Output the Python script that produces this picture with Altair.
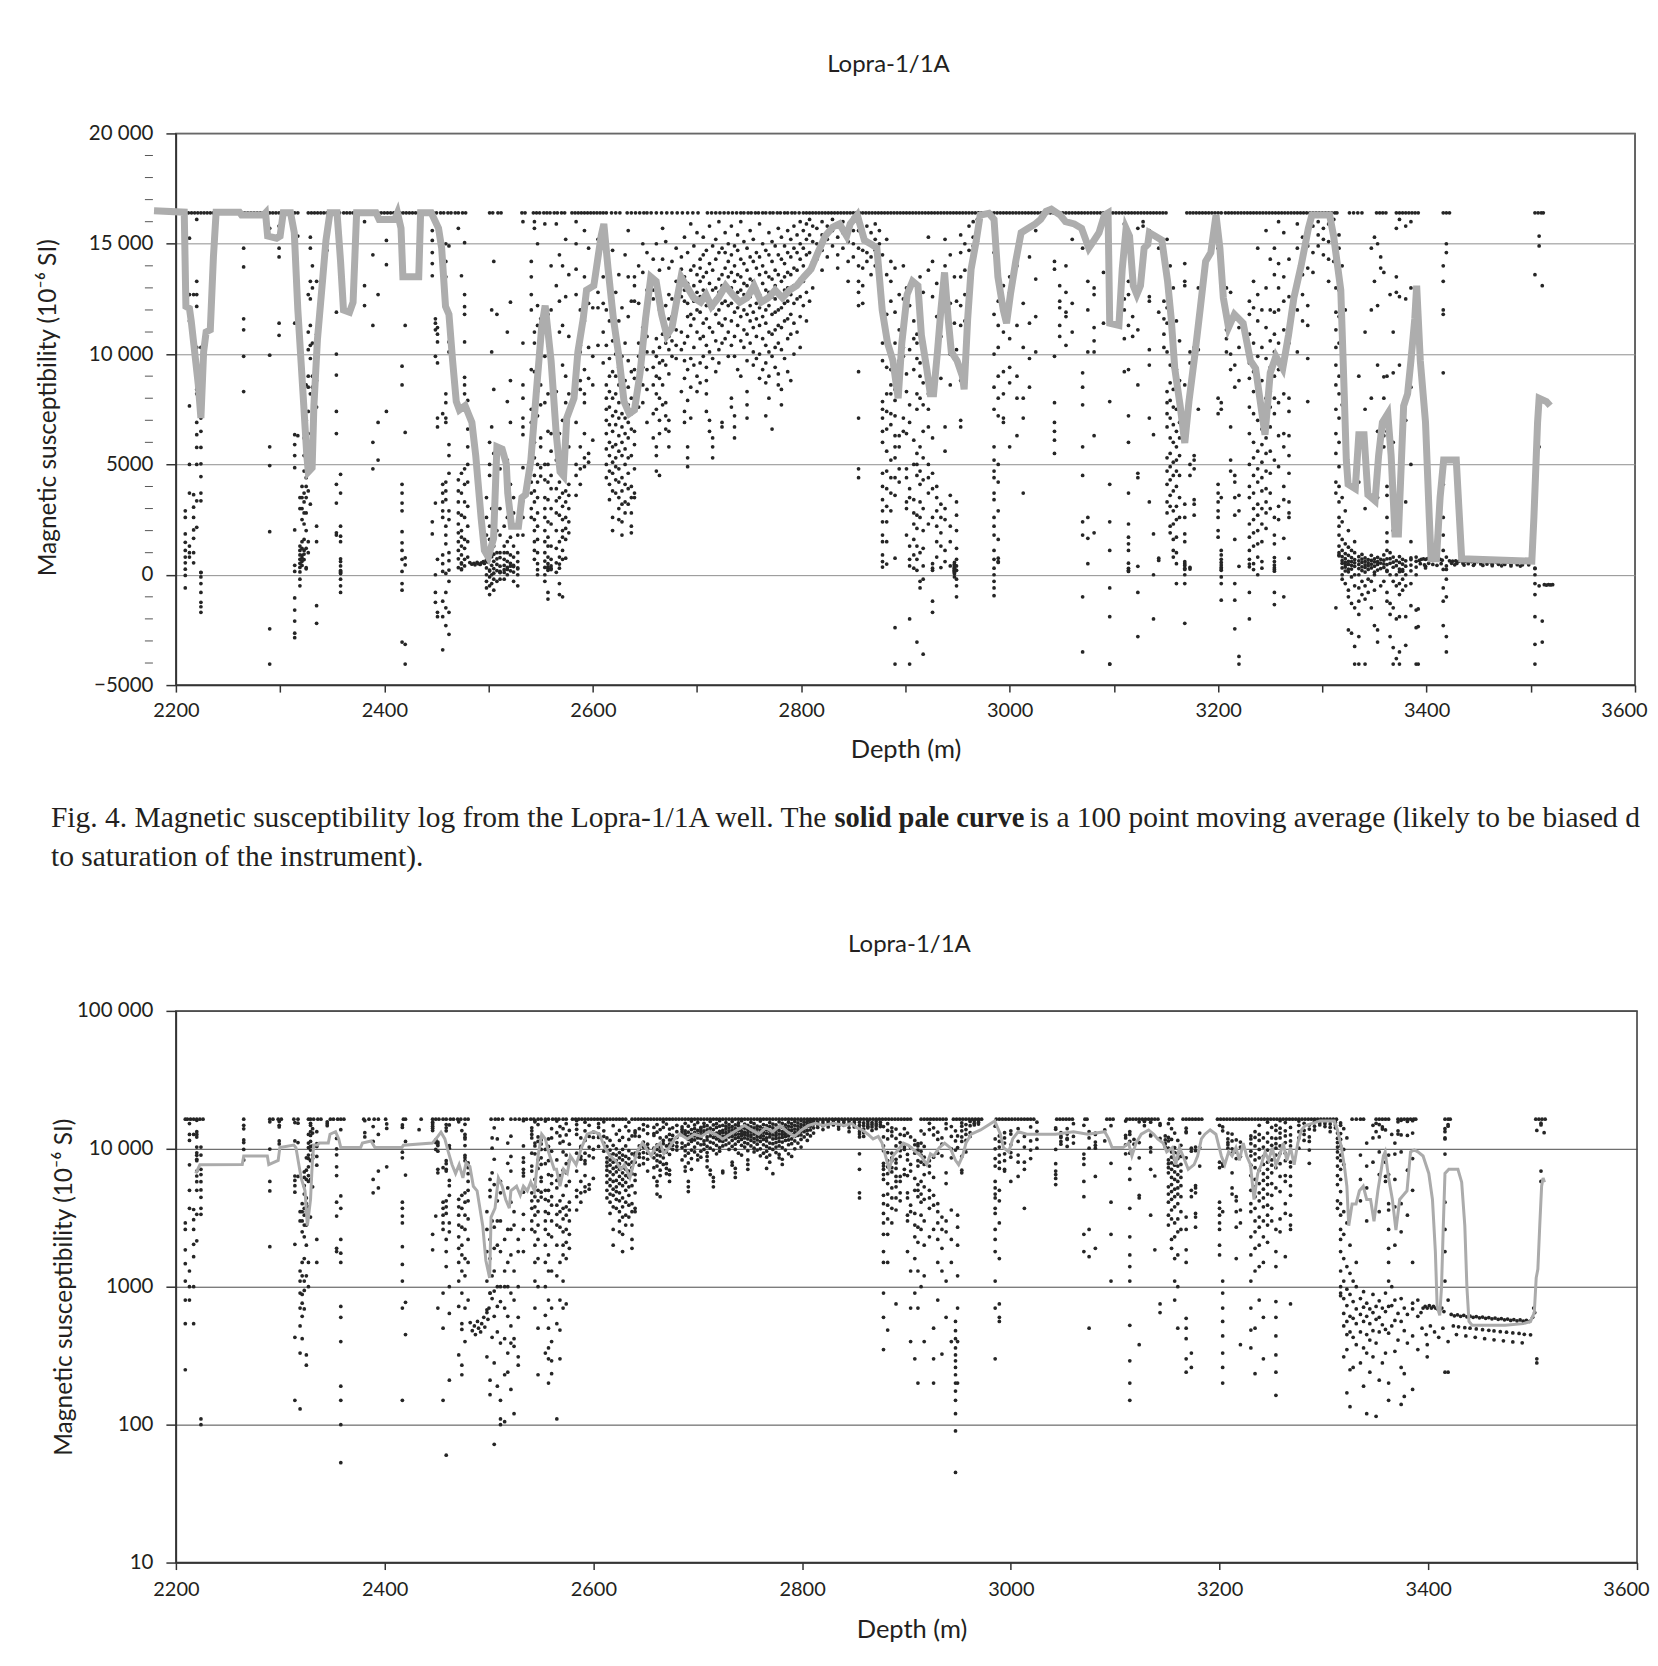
import altair as alt
import pandas as pd

alt.data_transformers.disable_max_rows()

SAT = 16400  # instrument saturation level (10^-6 SI)

# ---------------- data ----------------
sat_lin_depths = [
    2200, 2203, 2206, 2209, 2212, 2215, 2218, 2221, 2224, 2227, 2230, 2233, 2236, 2239, 2242, 2245, 2248, 2251,
    2254, 2257, 2260, 2263, 2266, 2269, 2272, 2275, 2278, 2281, 2284, 2287, 2290, 2293, 2296, 2299, 2302, 2305,
    2308, 2311, 2314, 2317,
    2327, 2330, 2333, 2336, 2339, 2342, 2345, 2348, 2351, 2354, 2357, 2361, 2364, 2367, 2370, 2373, 2376, 2379,
    2382, 2385, 2388, 2391, 2394, 2397, 2400, 2403, 2406, 2409, 2412, 2415, 2418, 2421, 2424, 2427, 2430, 2433,
    2436, 2439,
    2443, 2447, 2450, 2454, 2457, 2461, 2464, 2468, 2471, 2475, 2478,
    2501, 2504, 2509, 2512, 2532, 2535, 2543, 2546, 2549,
    2553, 2556, 2559, 2563, 2566, 2570, 2573,
    2580, 2583, 2586, 2589, 2592, 2595, 2598, 2601, 2604, 2607, 2610, 2613,
    2618, 2622, 2626, 2633, 2637, 2641, 2645, 2649, 2652,
    2656, 2661, 2666, 2671, 2676, 2681, 2686, 2691, 2696, 2701,
    2710, 2714, 2718, 2722, 2726, 2730,
    2734, 2738, 2742, 2745, 2749, 2752, 2756, 2759, 2763, 2766, 2770, 2773, 2777, 2780, 2784, 2787, 2791, 2794, 2798,
    2802, 2805, 2808, 2811, 2814, 2817, 2820, 2823, 2826, 2829, 2832, 2835, 2838, 2841, 2844, 2847, 2850, 2853,
    2856, 2859, 2862, 2865, 2868, 2871, 2874, 2877, 2880, 2883, 2886, 2889, 2892, 2895, 2898, 2901, 2904, 2907,
    2910, 2913, 2916, 2919, 2922, 2925, 2928, 2931, 2934, 2937, 2940, 2943, 2946, 2949, 2952, 2955, 2958, 2961,
    2964, 2967, 2970, 2973, 2976, 2979, 2982, 2985, 2988, 2991, 2994, 2997, 3000, 3003, 3006, 3009, 3012, 3015,
    3018, 3021, 3024, 3027, 3030, 3033, 3036, 3039, 3042, 3045, 3048, 3051, 3054, 3057, 3060, 3063, 3066, 3069,
    3072, 3075, 3078, 3081, 3084, 3087, 3090, 3093, 3096, 3099, 3102, 3105, 3108, 3111, 3114, 3117, 3120, 3123,
    3126, 3129, 3132, 3135, 3138, 3141, 3144, 3147, 3150,
    3170, 3173, 3176, 3179, 3182, 3185, 3188, 3191, 3194, 3197, 3200, 3203, 3207, 3210, 3213, 3216, 3219, 3222,
    3225, 3228, 3231, 3234, 3237, 3240, 3243, 3246, 3249, 3252, 3255, 3258, 3261, 3264, 3267, 3270, 3273, 3276,
    3279, 3282, 3285, 3288, 3291, 3294, 3297, 3300, 3303, 3306, 3309, 3312, 3314,
    3326, 3330, 3334, 3338, 3352, 3355, 3358, 3361, 3371, 3374, 3377, 3380, 3383, 3386, 3389, 3392,
    3416, 3419, 3422, 3504, 3507, 3510, 3512,
]

sat_log_depths = [
    2209, 2211, 2214, 2217, 2220, 2223, 2226, 2265, 2290, 2293, 2298, 2301, 2313, 2317, 2327, 2329, 2332, 2336,
    2339, 2348, 2351, 2355, 2358, 2361, 2380, 2385, 2390, 2394, 2401, 2418, 2420, 2435, 2446, 2449, 2452, 2456,
    2459, 2463, 2466, 2470, 2473, 2477, 2480, 2502, 2506, 2509, 2513, 2521, 2525, 2529, 2533, 2536, 2540, 2543,
    2547, 2550, 2554, 2557, 2561, 2564, 2567, 2571, 2574,
    2580, 2583, 2586, 2589, 2592, 2595, 2598, 2601, 2604, 2607, 2610, 2613, 2616, 2619, 2622, 2625, 2628, 2631,
    2637, 2640, 2643, 2646, 2649, 2652, 2655, 2658, 2661, 2664, 2667, 2670, 2673, 2676, 2679, 2682, 2685, 2688,
    2691, 2694, 2697, 2700, 2703, 2706, 2709, 2712, 2715, 2718, 2721, 2724, 2727, 2730, 2733, 2736, 2739, 2742,
    2745, 2748, 2751, 2754, 2757, 2760, 2763, 2766, 2769, 2772, 2775, 2778, 2781, 2784, 2787, 2790, 2793, 2796,
    2799, 2802, 2805, 2808, 2811, 2814, 2817, 2820, 2823, 2826, 2829, 2832, 2835, 2838, 2841, 2844, 2847, 2850,
    2853, 2856, 2859, 2862, 2865, 2868, 2871, 2874, 2877, 2880, 2883, 2886, 2889, 2892, 2895, 2898, 2901, 2904,
    2914, 2917, 2920, 2923, 2926, 2929, 2932, 2935, 2938, 2945, 2948, 2951, 2954, 2957, 2960, 2963, 2966, 2969,
    2972, 2986, 2989, 2992, 2995, 2998, 3001, 3004, 3007, 3010, 3013, 3016, 3019, 3022, 3044, 3047, 3050, 3053,
    3056, 3059, 3071, 3073, 3092, 3095, 3098, 3111, 3114, 3117, 3120, 3123, 3126, 3129, 3132, 3135, 3138, 3141,
    3152, 3155, 3165, 3168, 3171, 3174, 3177, 3180, 3183,
    3198, 3201, 3204, 3207, 3210, 3213, 3216, 3219, 3222, 3225, 3228, 3231, 3234, 3237, 3240, 3243, 3246, 3249,
    3252, 3255, 3258, 3261, 3264, 3267, 3270, 3273, 3276, 3279, 3282, 3285, 3288, 3291, 3294, 3297, 3300, 3303,
    3306, 3309, 3312,
    3327, 3331, 3335, 3338, 3350, 3353, 3356, 3359, 3362, 3371, 3374, 3377, 3380, 3383, 3386, 3388,
    3416, 3419, 3421, 3503, 3506, 3509, 3512,
]

# columns of log readings: (depth m, [susceptibility values])
scatter_columns = [
    (2209, [2900, 2600, 1850, 1470, 1100, 800, 540, 250, -30, -600]),
    (2213, [15250, 12700, 11500, 7650, 5000, 3700, 1300, 1000, 800]),
    (2217, [12700, 3630, 3060, 2600, 2030, 1650, 1000, 540]),
    (2220, [16100, 13300, 12700, 12160, 10300, 9350, 8970, 8400, 8200, 6900, 6350, 5770, 5000, 3350, 2150]),
    (2224, [10300, 9000, 7100, 6500, 5770, 5030, 4450, 3700, 3350, 110, 100, -100, -400, -800, -1250, -1450, -1700]),
    (2265, [14800, 13950, 11600, 11100, 9900, 8300]),
    (2290, [15700, 9950, 5800, 4950, 1950, -2450, -4050]),
    (2299, [15800, 14800, 14400, 11400, 10850]),
    (2314, [15500, 11400, 6350, 5900, 5400, 4850, 2030, 430, 150, -1050, -1600, -2100, -2650, -2850]),
    (2317, [15350, 11100, 6300]),
    (2319, [3500, 3000, 1300, 1100, 900, 700, 520, 330, 130, -200, -500]),
    (2321, [4000, 3500, 3000, 2500, 1500, 1200, 880, 760, 610, 420]),
    (2323, [6800, 6200, 5400, 4700, 3700, 3300, 2800, 2300, 1600, 1100, 940, 690]),
    (2325, [8600, 7000, 6000, 4400, 4000, 3500, 2800, 2000, 1200, 320, 270]),
    (2327, [12700, 11000, 10200, 9000, 8500, 7400, 6400, 5800, 3800, 1500, 1000]),
    (2329, [15300, 14800, 13300, 12500, 11300, 10400, 9800, 8200, 6000, 3200]),
    (2331, [14000, 13000, 10500, 9000, 8500, 5300]),
    (2335, [13300, 10900, 10400, 8800, 7600, 2200, 1500, -1400, -2200]),
    (2345, [15700, 15200, 14700]),
    (2354, [11900, 10000, 9050, 7400, 6400, 4100, 3250, 1900, 1800]),
    (2358, [13750, 4550, 3700, 2200, 1750, 1500, 720, 600, 400, 190, 150, 100, 53, -200, -500, -800]),
    (2381, [16000, 13100, 12200]),
    (2389, [14500, 11300, 6000, 4800]),
    (2394, [12700, 6900, 5200]),
    (2402, [15150, 14050, 7400]),
    (2417, [14900, 14300, 9450, 8600, 4100, 3700, 3250, 2900, 1950, 1450, 1100, 700, 150, -400, -700, -3050]),
    (2420, [11300, 6450, 770, 450, -3150, -4050]),
    (2433, [13750]),
    (2446, [15600, 15150, 14600, 14100, 13550, 2400, 1850]),
    (2449, [11600, 11400, 11100, 9900, 3250, 0, -800, -1250]),
    (2451, [11200, 10900, 10550, 9600, 7100, 6700, 700, -1700, -1900]),
    (2456, [7300, 4100, 3700, 3300, 2900, 2600, 900, 500, 150, -1200, -1900, -3400]),
    (2459, [15000, 14200, 13500, 8200, 7800, 7100, 6900, 4200, 3800, 3400, 2200, 1800, 1400, 60, -800, -1500, -2300]),
    (2462, [14900, 10550, 10100, 5900, 5400, 4600, 2900, 2500, 1000, 640, 210, -300, -1700, -2700]),
    (2471, [15700, 4300, 3800, 3300, 2800, 2300, 1900, 1500, 1100, 720, 320]),
    (2474, [13550, 4600, 3700, 2700, 2000, 1700, 1300, 900, 540, 490, 270, 230]),
    (2477, [15050, 12700, 12150, 11800, 10550, 8950, 8600, 8200, 4800, 4100, 3300, 2600, 1600, 1200, 700, 400]),
    (2480, [7900, 7300, 6600, 5800, 5000, 4200, 3100, 2200, 1500, 800]),
    (2498, [3500, 2600, 1800, 1100, 680, 310, 0, -300, -600]),
    (2501, [6000, 5000, 4500, 2200, 1600, 900, 210, 165, -100, -500, -900]),
    (2503, [12000, 10100, 6700, 3000, 1200, 820, 430, 0, -400]),
    (2505, [14200, 8400, 5500, 2700, 1900, 1300, 930, 610, 280, 72, -200, -700]),
    (2508, [11800, 4200, 3000, 2000, 1000, 720, 470, 190, -300]),
    (2511, [5800, 4800, 3000, 1800, 1000, 780, 390, 150, 110, 100, -200]),
    (2515, [2200, 1300, 1000, 700, 420, 230, 105, -200]),
    (2518, [11000, 7850, 5200, 2600, 1500, 1000, 610, 330, 240, 0]),
    (2521, [12350, 8800, 6900, 4100, 2600, 1700, 900, 520, 390, 180]),
    (2524, [3500, 2800, 1300, 800, 420, 370, 120, -300]),
    (2528, [2200, 1800, 1000, 600, 310, 270, 0, -500]),
    (2533, [16000, 10500, 8600, 8000, 7100, 6700, 6350, 4850, 3350, 2600, 1800]),
    (2541, [14200, 13500, 12700, 12000, 9300, 7500, 6900, 4800, 4200, 3700, 3000, 2600]),
    (2544, [16000, 15700, 11000, 10500, 9200, 6000, 5300, 4500, 3800, 3300, 2500, 2000, 1500, 1100, 700]),
    (2547, [15000, 12200, 11300, 8300, 7200, 5000, 4200, 3500, 2800, 2200, 1600, 1000, 500, 230, 0]),
    (2550, [11600, 10850, 9900, 8600, 7700, 6200, 5800, 4850, 4470]),
    (2554, [15900, 9900, 7800, 5000, 4300, 3500, 3000, 2600, 2000, 1500, 1000, 620, 330, 0, -300]),
    (2557, [11800, 10400, 8200, 6500, 5000, 4200, 3400, 2400, 1700, 1300, 800, 500, 360, 300, 200, -800, -1100]),
    (2560, [14000, 12000, 9600, 6400, 5600, 4500, 3900, 3000, 2300, 1300, 700, 400, 290, 234]),
    (2565, [15900, 13100, 8300, 5900, 5200, 3900, 3350, 2800, 2000, 1200, 540, 110]),
    (2568, [14500, 12400, 11000, 6400, 4200, 3500, 2700, 1500, 800, 485, 300, -400, -900]),
    (2571, [14000, 11300, 9500, 7000, 4600, 3700, 3100, 2500, 2000, 1700, 1100, 700, -1000]),
    (2574, [15200, 12600, 9000, 7800, 6700, 5400, 3800, 3300, 2600, 2100, 1600, 750]),
    (2577, [13600, 10800, 8200, 5800, 4100, 3600, 3000, 2400, 1900]),
    (2584, [16000, 15000, 13850, 12700, 9300, 6900, 5000, 4500, 3600]),
    (2588, [12000, 10400, 10100, 8800, 8400, 5800, 4800, 4100]),
    (2592, [15600, 13500, 11500, 9300, 8200, 7800, 6400, 5300, 4900]),
    (2596, [14800, 12300, 10300, 8900, 5500, 5100]),
    (2600, [13200, 12100, 9900, 8600, 6100]),
    (2605, [15200, 14300, 12800, 12100, 10400]),
    (2610, [15700, 13500, 12300, 11000, 9600]),
    (2613, [12000, 10400, 8600, 8000, 7500, 7000, 6400, 5700, 5000, 4400]),
    (2616, [11500, 9800, 9000, 8300, 7600, 6800, 6000, 5400, 4700, 4100, 3400]),
    (2619, [14700, 10600, 9200, 8000, 7200, 6500, 5800, 5100, 4600, 3800, 2600, 2000]),
    (2622, [12800, 10000, 9000, 8200, 7400, 6800, 5900, 5300, 4900, 4300, 3700]),
    (2625, [13600, 11500, 9400, 8600, 7800, 7100, 6300, 5600, 4800, 4200, 3500, 3000, 2500]),
    (2628, [12100, 9900, 9000, 8300, 7300, 6700, 6000, 5400, 4400, 3800, 3200, 2400, 1800]),
    (2631, [14500, 10500, 8800, 7900, 7100, 6400, 5700, 5000, 4100, 3300, 2800]),
    (2634, [15600, 13500, 11700, 9700, 8500, 7700, 6900, 6200, 5300, 4600, 3900, 3200]),
    (2637, [12400, 9200, 8000, 7300, 6600, 5400, 4000, 3500, 2800, 2200, 1900]),
    (2640, [13500, 13100, 12400, 9300, 8900, 8000, 6500, 5900, 4800, 3700, 3500]),
    (2644, [14000, 12300, 10500, 9900, 9200, 8700, 7600]),
    (2648, [15000, 13700, 11200, 10300, 9400, 8600, 7800]),
    (2652, [14600, 12900, 10800, 10100, 9300, 8400, 6900]),
    (2658, [14300, 12900, 12500, 10100, 9400, 8600, 7300, 6200]),
    (2661, [15000, 13200, 10700, 9900, 9000, 8200, 7500, 5800, 5400, 4700]),
    (2664, [13800, 12000, 10300, 9600, 8900, 8000, 7000, 6400, 4500]),
    (2667, [15700, 14300, 11500, 10900, 9700, 8600, 7700]),
    (2670, [15100, 12200, 10500, 9500, 7800, 7200, 6600]),
    (2673, [13900, 12700, 11600, 10800, 10200, 9100, 7000, 6500, 5800]),
    (2676, [14200, 12500, 11700, 11300, 10600, 9900]),
    (2680, [14800, 13300, 12100, 11100, 10400, 9800]),
    (2685, [14400, 13850, 13300, 12600, 11000, 10200, 8300]),
    (2688, [15300, 13500, 12900, 12400, 10500, 9700, 8900, 7400, 6900]),
    (2691, [14600, 13200, 12300, 11700, 10800, 9300, 7900, 5800, 5300, 4900]),
    (2694, [15900, 13800, 12700, 11800, 11300, 9800, 8500, 7100]),
    (2697, [14900, 14000, 13100, 12400, 11600, 10300, 9500]),
    (2700, [15500, 13600, 12800, 12000, 11000, 9000, 8300]),
    (2703, [14300, 13900, 13300, 12600, 11900, 10700, 9600, 8700]),
    (2706, [15300, 14500, 13500, 12900, 11400, 10800, 9900]),
    (2709, [14700, 13700, 12200, 11600, 10400, 9400, 8800, 8200, 7400]),
    (2712, [15800, 14100, 13200, 12400, 11200, 10100, 7000, 6500]),
    (2715, [14900, 13800, 12900, 12100, 11000, 9800, 6200, 5800, 5300]),
    (2718, [15200, 14300, 13000, 12500, 11800, 10600, 9200]),
    (2721, [16000, 14600, 13400, 12800, 12000, 11400, 10200, 9600]),
    (2724, [14800, 13600, 13100, 12300, 11300, 10500, 6900, 6700]),
    (2727, [15500, 14600, 13900, 13100, 12400, 11600, 10700]),
    (2730, [15000, 14200, 13500, 12900, 12200, 11000, 9900]),
    (2733, [15800, 14500, 13700, 13000, 12300, 11500, 10400, 8000, 7600]),
    (2736, [14900, 14000, 13300, 12600, 11900, 10800, 9900, 7200, 6700, 6200]),
    (2739, [15400, 14700, 13600, 12800, 12100, 11300, 9300]),
    (2742, [16000, 14300, 13500, 12900, 12400, 11700, 10600, 9000]),
    (2745, [15100, 14100, 13200, 12700, 12000, 11100, 10300]),
    (2748, [14800, 13800, 13100, 12500, 11800, 10900, 9700, 8300, 7700, 7100]),
    (2751, [15600, 14400, 13400, 12600, 12200, 11500, 10500]),
    (2754, [15200, 14200, 13300, 12800, 11900, 11200, 10100, 9500]),
    (2757, [14600, 13900, 13000, 12300, 11600, 10800, 9800]),
    (2760, [15900, 14400, 13600, 12700, 12100, 11300, 10000, 8900]),
    (2763, [15000, 14000, 13200, 12400, 11700, 10700, 9300]),
    (2766, [14700, 13700, 12900, 12000, 11400, 10400, 9600, 8700, 7200]),
    (2769, [15500, 14500, 13500, 12800, 12200, 11000, 10100, 9000, 8000]),
    (2772, [15100, 14200, 13400, 12600, 11800, 10900, 9900, 6600]),
    (2775, [14900, 13800, 13100, 12500, 11900, 11100, 10300, 9400]),
    (2778, [15700, 14500, 13600, 12800, 12000, 11300, 10500, 9100, 8600]),
    (2781, [15300, 14300, 13300, 12700, 12100, 11200, 10200, 8400, 7700]),
    (2784, [14900, 14100, 13500, 12900, 12300, 11500, 9800]),
    (2787, [15600, 14600, 13700, 13000, 12400, 11600, 10700, 9200]),
    (2790, [15200, 14400, 13600, 12700, 11800, 10900, 8800]),
    (2793, [15800, 14800, 13900, 13100, 12300, 11400, 10000]),
    (2796, [15400, 14600, 13800, 13200, 12500, 11000]),
    (2799, [16000, 15000, 14300, 13400, 12600, 11700, 10300]),
    (2802, [15600, 14800, 14000, 13300, 12200]),
    (2805, [15900, 15200, 14500, 13600, 12800, 11500]),
    (2808, [16100, 15400, 14600, 13700, 12400]),
    (2811, [15800, 15100, 14200, 13000]),
    (2815, [15700, 15000, 14300]),
    (2820, [16000, 15400, 14700, 13800]),
    (2825, [15800, 15200, 14400]),
    (2830, [16100, 15600, 14900]),
    (2835, [15900, 15300, 14500, 13900]),
    (2840, [16000, 15500, 14800]),
    (2845, [15700, 15100, 14200, 13300]),
    (2850, [16200, 15600, 15000, 14400]),
    (2855, [15600, 14800, 14000, 13300, 12800, 12200, 9200, 7100, 4800, 4400]),
    (2859, [15400, 14700, 13900, 13100, 12300]),
    (2863, [15800, 15100, 14600, 14200]),
    (2867, [15500, 15000, 14400, 13600]),
    (2871, [15900, 15200, 14700, 14000]),
    (2875, [15600, 15000, 14500]),
    (2878, [14500, 12200, 10500, 9700, 7850, 7500, 7100, 6500, 6000, 4600, 4000, 3400, 2900, 2400, 1800, 1500, 900, 600, 350]),
    (2882, [15200, 13600, 11800, 9400, 8200, 7400, 6600, 5600, 4700, 3900, 3100, 2400, 1500, 485]),
    (2886, [14200, 13300, 12400, 9300, 8600, 8200, 7300, 6800, 5200, 4400, 3700, 2900]),
    (2890, [13900, 11900, 10500, 8400, 7900, 7200, 6300, 5800, 5300, 4400, 3600, 750, -2400, -4050]),
    (2894, [12700, 11100, 9700, 8800, 6300, 5800, 4800, 4200]),
    (2898, [14000, 12500, 10300, 9900, 7100, 6500]),
    (2901, [13000, 9100, 8300, 6400, 4800, 4400, 3300, 3000, 1800]),
    (2904, [12200, 10200, 7700, 6900, 3900, 3500, 1300, 700, 400, -2000, -4050]),
    (2908, [11500, 10700, 9300, 6100, 5000, 3400, 2800, 2300, 1600, 900, 300]),
    (2911, [10900, 10500, 9800, 8200, 7500, 5500, 5000, 4500, 2700, 2100, 1300, 700, 200, -3050]),
    (2914, [13500, 11000, 9600, 9000, 8000, 5800, 4700, 4100, 3300, 2600, 1000, -300, -600]),
    (2917, [12800, 10400, 8700, 7700, 6500, 5300, 4300, 3000, 2000, 1200, 400, -200, -3600]),
    (2922, [15300, 13800, 8200, 7500, 6700, 5000, 4400, 3700, 2300]),
    (2926, [14200, 12600, 8700, 6200, 4600, 3900, 2600, 500, 300, 200, -1200, -1700]),
    (2930, [13200, 11700, 9300, 4000, 3500, 2900, 2200, 1500, 800]),
    (2934, [12000, 10800, 8900, 3200, 2600, 1900, 1300, 325]),
    (2938, [15200, 14000, 6700, 5600, 3000, 2500, 1100, 600]),
    (2943, [14500, 12300, 10000, 8600, 3600, 2200, 1500, 400]),
    (2947, [13500, 11400, 9800, 560, 480, 420, 360, 320, 290, 260, 230, 200, 175, 150, 120, 90, 45, -100]),
    (2949, [12400, 10200, 3300, 2700, 2000, 1200, 700, 400, 200, -200, -500, -1000]),
    (2953, [15400, 14600, 13500, 12200, 11300, 8800, 7000, 6700]),
    (2957, [15000, 13800, 12700, 11500, 9500]),
    (2961, [15800, 14700, 13100, 12300]),
    (2965, [16000, 15300, 14900]),
    (2969, [16100, 15600, 15100]),
    (2985, [14600, 11800, 10000, 8500, 7500, 5800, 5200, 4700, 4400, 3700, 3400, 2600, 2200, 1800, 1100, 700, 300, 0, -300, -600, -950]),
    (2989, [12400, 11300, 10300, 9000, 8000, 7200, 5000, 4200, 2900, 1600, 750, 600, 560]),
    (2994, [13100, 12000, 11000, 9200, 8200, 7100, 6900]),
    (3000, [13500, 12800, 10700, 9400, 8700, 5800]),
    (3007, [14000, 11300, 9000, 8000, 6300]),
    (3013, [12300, 10300, 8000, 7100, 3700]),
    (3019, [14400, 11400, 9800, 8500]),
    (3025, [15600, 13400, 11700, 10100]),
    (3043, [14200, 13850, 9900, 7800, 6900, 6500, 6100, 5500]),
    (3048, [13100, 12400, 12100, 11300, 10800]),
    (3054, [14000, 12800, 11900, 11700, 10400]),
    (3060, [15200, 12300, 11000]),
    (3070, [14800, 9150, 8500, 7700, 5800, 4500, 2400, 1800, -1000, -3500]),
    (3075, [13300, 12000, 10100, 2600, 1650, 500]),
    (3081, [13000, 12700, 11200, 10600, 10100, 6300, 1900]),
    (3090, [13700, 11400]),
    (3096, [14700, 7850, 4100, 2400, 1100, -600, -1900, -4050, -4050]),
    (3110, [15900, 12500, 12000, 10700, 9200]),
    (3114, [13300, 12700, 11300, 9300, 7200, 6000, 3700, 2300, 1700, 1400, 1100, 525, 290, 200, 150]),
    (3118, [11700, 10800]),
    (3123, [15700, 11100, 8600, 4600, 4400, 380, -800, -2800]),
    (3128, [16000, 15800, 14700]),
    (3134, [15600, 12600, 12400, 10200, 9500, 7100, 3300]),
    (3138, [6350, 1850, 0, -2000]),
    (3143, [15200, 14800, 11900, 750, 650]),
    (3148, [12400, 11600, 10900, 10300]),
    (3151, [15200, 12100, 11400, 10100, 8300, 7800, 7300, 6700, 5300, 4700, 4100, 3300, 2800]),
    (3154, [14000, 11700, 9500, 8700, 7900, 7100, 6200, 5500, 4900, 4300, 3600, 3100, 2200, 1900]),
    (3157, [13000, 10200, 9400, 8400, 7600, 6800, 6000, 5100, 4500, 3800, 2900, 2300, 1600, 1100, 800]),
    (3160, [11500, 9300, 8500, 7500, 6500, 5800, 5200, 4700, 4000, 3100, 2500, 1700, 1000, 500, -400]),
    (3163, [10600, 8800, 7700, 6900, 6200, 5400, 4500, 3500, 2600]),
    (3168, [14100, 13300, 13100, 8600, 3200, 2600, 1850, 1500, 590, 500, 420, 300, 240, 0, -400, -2200]),
    (3173, [10100, 9600, 5000, 4500, 330, 260]),
    (3177, [10300, 9700, 5400, 5200, 4800, 3400, 3200, 2700]),
    (3181, [13000, 10200, 7500]),
    (3200, [14800, 8000, 7300, 4100, 3700, 3300, 2900, 2600, 2000, 1700]),
    (3203, [14400, 13500, 7800, 7500, 3500, 1100, 900, 700, 560, 440, 330, 260, 200, -100, -400, -1150]),
    (3208, [13000, 11800, 11100, 10700, 10100]),
    (3212, [12800, 11400, 10000, 9300, 6700, 5200, 4700]),
    (3216, [11600, 9500, 8500, 4500, 4200, 3500, 2700, 1600, -400, -1150, -2450]),
    (3220, [11200, 10300, 8800, 3600, 2900, 380, -3700, -4050]),
    (3230, [12400, 11800, 10900, 9600, 8900, 7600, 6400, 5000, 4000, 3500, 2300, 1700, 1100, 700, 485, 360, -800, -2000]),
    (3234, [13300, 12100, 10500, 9200, 8300, 7300, 6000, 5300, 4500, 3700, 3000, 2500, 1900, 1300, 500, 234]),
    (3238, [14800, 12700, 11500, 9900, 8600, 7000, 5600, 4800, 4200, 3200, 2700, 2000, 1400, 800, 0]),
    (3242, [12000, 10300, 8800, 7700, 6600, 5900, 5100, 4400, 3800, 3000, 2300, 1500, 600, 300]),
    (3246, [15600, 13000, 11200, 9800, 8000, 7100, 6200, 5500, 4700, 3900, 3300, 2800, 2100]),
    (3250, [14300, 12000, 10600, 9400, 8300, 7600, 6700, 5600, 4600, 3700, 3000]),
    (3254, [14800, 13600, 11900, 10900, 10100, 9000, 8000, 7300, 5200, 2600, 1800, 1400, 780, 600, 440, 320, 240, 163, -800, -1350]),
    (3258, [16000, 14100, 13000, 12000, 10500, 9300, 7800, 6300, 4900, 3100, 2500]),
    (3263, [15500, 13500, 12400, 11100, 9300, 8200, 6400, 5800, 4000, 3400, 1650, -1000]),
    (3268, [14300, 12600, 11400, 10500, 8000, 7400, 6300, 5400, 4600, 3300, 2800, 2600, 750]),
    (3276, [15900, 14800, 13300, 12000, 10100]),
    (3281, [15300, 13600, 12700, 11500]),
    (3286, [14900, 13900, 12200, 11300, 9800, 7850]),
    (3291, [15800, 14600, 13700]),
    (3296, [16000, 15400, 14900]),
    (3301, [15700, 15200, 14500]),
    (3306, [15900, 15100, 14300, 13300]),
    (3311, [16100, 15500, 14900, 14200]),
    (3313, [13000, 11900, 11100, 10300, 9500, 8600, 7500, 6400, 5500, 4200, 3700, -1500]),
    (3316, [15400, 14800, 12900, 11700, 10500, 9000, 8200, 7100, 6000, 4900, 4000, 3300, 2600, 2200, 1800, 1300, 1000, 900, 860]),
    (3319, [14000, 9900, 7700, 3500, 2400, 1600, 1100, 820, 640, 520, 310, 0, -200]),
    (3322, [12000, 2900, 1400, 960, 730, 560, 450, 350, 170, -400]),
    (3325, [2000, 1250, 880, 610, 470, 250, 135, -700, -1000, -2500]),
    (3328, [1100, 780, 590, 430, 260, -100, -1300, -2650]),
    (3331, [1500, 1000, 690, 540, 380, 0, -500, -1500, -3250, -4050]),
    (3335, [9000, 6000, 4200, 820, 630, 470, 280, 0, -600, -1200, -1800, -2800, -4050]),
    (3338, [920, 710, 560, 360, 190, -300, -900]),
    (3341, [11000, 7500, 5200, 3000, 760, 610, 450, 330, 120, -500, -1100, -4050]),
    (3344, [690, 540, 410, 240, -200, -800]),
    (3347, [14800, 12000, 8000, 880, 650, 480, 310, -300, -1500]),
    (3350, [15300, 13300, 720, 580, 390, 115, 0, -700, -2300]),
    (3353, [15000, 12200, 9500, 6500, 3500, 790, 600, 470, 210, -2500, -3050]),
    (3356, [14400, 13900, 700, 530, 280, -500]),
    (3359, [13700, 8970, 8000, 6300, 5800, 900, 660, 490, 330, -300]),
    (3362, [9000, 6500, 4000, 3600, 2600, 1900, 1500, 1100, 720, 460, 200, 150, -800, -1200]),
    (3365, [12700, 1000, 730, 520, 0, -1300, -1800, -2800]),
    (3368, [11000, 9150, 6000, 3800, 2000, 800, 570, 340, -300, -1500, -3300, -4050]),
    (3371, [15700, 13500, 12800, 640, 410, 0, -500, -2000, -3800]),
    (3374, [16100, 12600, 9500, 4000, 2500, 820, 560, 260, 140, -400, -900, -1900, -3500, -4050]),
    (3377, [700, 480, 234, 160, -200, -700]),
    (3380, [15800, 12500, 7000, 3300, 630, 390, 0, -500, -1900, -3200]),
    (3385, [16000, 13000, 8500, 5000, 1500, 760, 690, 440, 180, -400, -1400]),
    (3390, [800, 610, 350, 0, -1600, -2400, -4050]),
    (3392, [-1550, -2350, -4050]),
    (3399, [380, 310]),
    (3416, [14000, 13300, 12000, 11800, 9150, 4100, 2600, 1800, 1100, 240, -600, -1200, -2300]),
    (3419, [15000, 14600, 800, 400, 240, -200, -1000, -2800, -3500]),
    (3504, [13600, 300, 280, 0, -400, -900, -1900, -3150, -4050]),
    (3508, [15350, 14900, 6900, 5800, -500]),
    (3511, [13100, -2100, -3050]),
]

# low, nearly flat bands of readings: (depth, value)
band_points = [
    (2482, 550), (2484, 480), (2486, 520), (2487, 450), (2489, 560), (2490, 500), (2492, 470), (2493, 540),
    (2495, 600), (2496, 510), (2498, 650), (2499, 580), (2500, 700), (2501, 900),
    (3393, 650), (3395, 700), (3397, 720), (3399, 700), (3401, 730), (3403, 700), (3405, 720), (3407, 700),
    (3409, 690), (3411, 680), (3413, 700), (3415, 660),
    (3394, 500), (3398, 450), (3402, 520), (3406, 470), (3410, 430), (3414, 500),
    (3422, 630), (3425, 615), (3428, 625), (3431, 610), (3434, 620), (3437, 605), (3440, 612), (3443, 600),
    (3446, 608), (3449, 595), (3452, 602), (3455, 590), (3458, 598), (3461, 585), (3464, 592), (3467, 580),
    (3470, 588), (3473, 575), (3476, 583), (3479, 570), (3482, 578), (3485, 566), (3488, 574), (3491, 562),
    (3494, 570), (3497, 560), (3500, 600),
    (3424, 520), (3429, 512), (3435, 505), (3440, 500), (3446, 494), (3452, 488), (3458, 483), (3463, 478),
    (3469, 472), (3475, 468), (3481, 462), (3487, 458), (3492, 452), (3498, 448),
    (3427, 450), (3436, 440), (3445, 430), (3454, 420), (3463, 412), (3472, 405), (3481, 398), (3490, 392),
    (3501, 700), (3502, 650),
    (3513, -450), (3515, -470), (3517, -450), (3519, -460), (3521, -450),
]

# 100-point moving average, linear plot
ma_lin = [
    (2179, 16500), (2208, 16430), (2209.6, 12160), (2213, 12070), (2214.7, 11500), (2218, 10100), (2221.5, 8600),
    (2224, 7100), (2226.6, 10100), (2229, 11000), (2233, 11100), (2236, 14400), (2238.6, 16430), (2261, 16430),
    (2263, 16300), (2284, 16300), (2286, 16400), (2288, 15350), (2296.6, 15250), (2300, 15350), (2303, 16400),
    (2310, 16400), (2313.6, 15500), (2317, 12000), (2322, 8200), (2325.6, 5400), (2327, 4660), (2330.7, 4850),
    (2332.4, 7650), (2335.8, 10660), (2341, 13500), (2344, 15160), (2347.8, 16400), (2354.6, 16400), (2358, 14200),
    (2360.8, 12000), (2366.6, 11900), (2370, 12350), (2373.4, 16400), (2392, 16400), (2395, 16100), (2410, 16100),
    (2412.6, 16400), (2416, 15700), (2417.8, 13500), (2433, 13500), (2434.8, 16400), (2445, 16400), (2452, 15700),
    (2455, 14800), (2458.7, 12160), (2462, 11800), (2465.5, 9700), (2469, 7850), (2472, 7470), (2477.5, 7660),
    (2484, 6900), (2487.7, 5400), (2492.8, 2600), (2496, 1100), (2499.7, 800), (2504.8, 1650), (2508, 5800),
    (2513, 5700), (2517, 5030), (2518.4, 3700), (2522, 2200), (2528.7, 2200), (2532, 3500), (2535.5, 3630),
    (2540.6, 5200), (2545.7, 8200), (2550.9, 11200), (2554.3, 12200), (2560, 9700), (2565, 6350), (2568.6, 4660),
    (2572, 4470), (2575, 7100), (2582, 8000), (2585.7, 10100), (2590.8, 11600), (2594, 12900), (2601, 13100),
    (2608, 15350), (2610.6, 15900), (2614.7, 13850), (2619.8, 11600), (2625, 9900), (2630, 7850), (2635, 7300),
    (2640, 7470), (2645.4, 9150), (2650.6, 11600), (2655.7, 13500), (2660.8, 13300), (2666, 11800), (2671, 10850),
    (2676, 11200), (2681, 12550), (2684.7, 13500), (2689.8, 13100), (2696.7, 12550), (2703.5, 12350),
    (2708.6, 12700), (2713.8, 12160), (2720.6, 12550), (2727.4, 13100), (2734, 12700), (2741, 12350),
    (2748, 12550), (2754.7, 13100), (2761.6, 12350), (2768.4, 12550), (2775, 12900), (2782, 12550), (2789, 12900),
    (2795.7, 13100), (2802.6, 13500), (2809.4, 13850), (2816, 14600), (2823, 15350), (2830, 15750),
    (2836.7, 15900), (2843.6, 15350), (2847, 15900), (2853.8, 16300), (2860.6, 15160), (2867.5, 14970),
    (2872.6, 14800), (2877.7, 12000), (2882.8, 10500), (2888, 9700), (2893, 8000), (2896.5, 10500),
    (2901.6, 12700), (2906.8, 13300), (2912, 13100), (2915.3, 10850), (2920.4, 9350), (2923.8, 8200),
    (2927, 8200), (2930.7, 10100), (2934, 12000), (2937.5, 13700), (2941, 11600), (2944, 10100), (2949.5, 9700),
    (2954.6, 9000), (2956.3, 8400), (2959.7, 11600), (2963, 13850), (2968, 15160), (2971.7, 16300),
    (2980, 16380), (2985, 16100), (2988.7, 13500), (2993.9, 12000), (2997, 11400), (3000.7, 12700),
    (3005.8, 14200), (3011, 15500), (3017.8, 15700), (3024.6, 15900), (3029.7, 16100), (3034.9, 16470),
    (3040, 16570), (3048.5, 16300), (3053.6, 16000), (3062, 15900), (3069, 15700), (3075.9, 14800),
    (3081, 15160), (3085.7, 15500), (3090.9, 16300), (3094.4, 16400), (3096, 11400), (3104.8, 11300),
    (3108, 13850), (3111.7, 15700), (3115, 15350), (3118.6, 13100), (3122, 12700), (3125.5, 13100),
    (3129, 14800), (3132.5, 14970), (3134, 15500), (3139.4, 15350), (3146, 15160), (3151.5, 13300),
    (3155, 11600), (3158.4, 9350), (3163.6, 7650), (3168, 5970), (3172, 7850), (3177.5, 9900), (3182.7, 12000),
    (3188, 14200), (3193, 14600), (3198, 16300), (3201.7, 14800), (3205, 12550), (3210, 11200), (3215.6, 11800),
    (3224, 11400), (3231, 9700), (3236, 9350), (3240, 8000), (3245, 6350), (3250, 9150), (3255.4, 9900),
    (3262, 9350), (3267.5, 10850), (3272.7, 12550), (3279.6, 14000), (3286.6, 15700), (3290, 16300),
    (3307, 16300), (3310.8, 15350), (3317.7, 12900), (3321, 8200), (3323, 5200), (3324.7, 4100), (3331.6, 3900),
    (3335, 6350), (3340, 6350), (3343.7, 3630), (3347, 3500), (3350.6, 3350), (3354, 5400), (3357.6, 6900),
    (3362.8, 7300), (3366, 5400), (3369.7, 1850), (3373, 1850), (3378, 7650), (3381.8, 8200), (3385, 9700),
    (3388.7, 11600), (3390.5, 13100), (3394, 9700), (3399, 6900), (3402.6, 2600), (3404.3, 720), (3409.5, 720),
    (3413, 3500), (3416.4, 5200), (3423.4, 5200), (3428.5, 5200), (3433.7, 720), (3501, 620), (3503, 2600),
    (3506.5, 6900), (3508, 8000), (3515, 7850), (3518.6, 7660),
]

# moving average as drawn on the logarithmic plot
ma_log = [
    (2219, 6630), (2223, 7670), (2263.6, 7700), (2265, 8870), (2287.6, 8870), (2289, 7670), (2298, 8240),
    (2299.6, 10200), (2313, 10650), (2315, 10200), (2320, 6150), (2323.7, 4960), (2326, 2770), (2329, 4290),
    (2330.6, 7670), (2332, 10650), (2335.7, 10650), (2337.4, 11000), (2346, 11000), (2347.7, 12760),
    (2353, 13300), (2356, 11800), (2358, 10200), (2377, 10200), (2378.7, 11000), (2387, 11400), (2390.7, 10200),
    (2416.5, 10200), (2418, 10600), (2445.7, 11000), (2451, 12300), (2454, 13200), (2457.7, 11800), (2461, 9500),
    (2464.6, 7670), (2468, 6630), (2471.4, 7670), (2475, 6150), (2478, 7900), (2481.7, 7450), (2485, 5350),
    (2488.6, 4960), (2494, 2770), (2497, 1550), (2500.6, 1160), (2502, 3200), (2505.8, 3710), (2509, 6150),
    (2512.7, 5350), (2516, 4290), (2519.5, 3710), (2521, 4960), (2526.4, 5350), (2530, 4600), (2533, 5350),
    (2536.7, 4960), (2540, 5730), (2543.6, 4960), (2547, 8870), (2550.5, 12760), (2554, 11800), (2557, 9500),
    (2562.5, 7100), (2564.7, 7100), (2568, 5350), (2571.5, 7100), (2575, 6630), (2578, 8870), (2583.5, 7670),
    (2588.7, 10200), (2594, 12760), (2600.7, 13300), (2605.8, 12760), (2611, 10200), (2616, 8870), (2621, 8250),
    (2626.4, 7100), (2629.8, 7670), (2635, 6150), (2638.4, 7670), (2641.8, 9500), (2647, 11000), (2650, 10200),
    (2655.5, 8870), (2659, 10200), (2664, 11000), (2667.5, 9200), (2672.7, 10200), (2677.8, 11800),
    (2683, 12760), (2690, 11800), (2696.7, 12760), (2703.5, 12300), (2710.4, 13300), (2717, 12760),
    (2724, 11800), (2731, 12760), (2737.8, 13700), (2744.7, 14760), (2751.5, 13700), (2758.4, 12760),
    (2765, 14200), (2772, 13300), (2779, 14760), (2785.8, 13300), (2792.6, 12300), (2799.5, 13700),
    (2806, 14760), (2813, 15300), (2820, 14760), (2830, 15300), (2840.6, 14760), (2847.5, 15300),
    (2852.6, 14200), (2857.8, 13700), (2863, 12760), (2868, 11800), (2873, 12300), (2876.6, 11000),
    (2880, 8870), (2883.5, 7100), (2887, 8870), (2892, 9800), (2897, 11000), (2902, 10600), (2909, 9500),
    (2914, 8870), (2919.5, 7670), (2923, 9200), (2926, 8870), (2931.5, 10200), (2936.6, 11000), (2941.8, 10200),
    (2947, 8250), (2950, 7670), (2953.8, 8870), (2957, 11000), (2962, 12760), (2971, 13700), (2977.8, 14760),
    (2984.6, 15900), (2990, 12760), (2993, 10200), (2998, 9500), (3001.8, 11800), (3007, 13300),
    (3015.5, 12760), (3025.7, 12760), (3043, 12760), (3060, 13300), (3073.7, 12760), (3090, 13300),
    (3093.8, 11800), (3097, 10200), (3107.6, 10200), (3112.8, 11000), (3116, 8870), (3120, 11000),
    (3125, 12760), (3132, 13700), (3137, 12760), (3140.7, 11800), (3146, 11000), (3149.4, 9500),
    (3154.7, 10200), (3158, 7670), (3161.6, 10200), (3165, 8870), (3170, 7100), (3175.6, 7670), (3179, 8870),
    (3182.6, 11800), (3186, 12760), (3191, 13700), (3196.5, 12760), (3201.7, 8870), (3205, 7670),
    (3208.7, 9500), (3212, 8870), (3215.7, 10200), (3219, 8250), (3222.7, 11000), (3226, 8870), (3229.6, 7670),
    (3233, 4290), (3236.6, 6630), (3240, 7670), (3243.6, 9500), (3247, 8250), (3250.6, 10200), (3254, 7670),
    (3257.5, 8870), (3261, 11000), (3264.5, 8250), (3268, 10200), (3271.5, 7670), (3275, 11000),
    (3278.5, 13700), (3282, 14760), (3289, 15300), (3296, 15900), (3310, 15900), (3313, 13700),
    (3316.8, 10200), (3320, 7100), (3322, 5350), (3323.8, 2770), (3327, 3980), (3330.8, 3980), (3334, 4960),
    (3337.7, 5350), (3341, 4290), (3344.7, 4290), (3348, 2980), (3351.7, 4960), (3355, 7100), (3357, 8870),
    (3358.7, 9500), (3362, 6150), (3365.6, 4290), (3369, 2570), (3372.6, 4290), (3376, 4600), (3379.6, 4960),
    (3383, 9500), (3386.6, 9800), (3390, 9500), (3395, 8870), (3400.5, 6630), (3404, 4290), (3406.8, 1790),
    (3408.5, 720), (3411, 620), (3412.7, 1000), (3414.4, 2770), (3416, 6630), (3419.7, 7100), (3428.4, 7100),
    (3432, 5730), (3435, 2770), (3437, 1000), (3439, 560), (3442, 525), (3456, 525), (3473.7, 525),
    (3491, 540), (3498, 560), (3501.6, 650), (3503.4, 1160), (3505, 1340), (3506.8, 2770), (3508.6, 5350),
    (3510, 6150), (3511.4, 5730),
]

x_ticks_top = [2200, 2300, 2400, 2500, 2600, 2700, 2800, 2900, 3000, 3100, 3200, 3300, 3400, 3500, 3600]
x_ticks_log = [2200, 2400, 2600, 2800, 3000, 3200, 3400, 3600]
y_ticks_top = [-5000, 0, 5000, 10000, 15000, 20000]
y_minor_top = [19000, 18000, 17000, 16000, 14000, 13000, 12000, 11000, 9000, 8000, 7000, 6000,
               4000, 3000, 2000, 1000, -1000, -2000, -3000, -4000]
y_ticks_log = [10, 100, 1000, 10000, 100000]

panel_title = "Lopra-1/1A"
y_title = "Magnetic susceptibility (10\u207b\u2076 SI)"
x_title = "Depth (m)"
caption_a = "Fig. 4. Magnetic susceptibility log from the Lopra-1/1A well. The"
caption_b = "solid pale curve"
caption_c = "is a 100 point moving average (likely to be biased due"
caption_d = "to saturation of the instrument)."

# ---------------- tables ----------------
rows_d, rows_v = [], []
for d, vals in scatter_columns:
    for v in vals:
        rows_d.append(d)
        rows_v.append(v)
for d, v in band_points:
    rows_d.append(d)
    rows_v.append(v)
pts = pd.DataFrame({"depth": rows_d, "value": rows_v})
top_pts = pd.concat([pts, pd.DataFrame({"depth": sat_lin_depths, "value": [SAT] * len(sat_lin_depths)})],
                    ignore_index=True)
log_pts = pd.concat([pts[pts["value"] > 0],
                     pd.DataFrame({"depth": sat_log_depths, "value": [SAT] * len(sat_log_depths)})],
                    ignore_index=True)
ma_top_df = pd.DataFrame(ma_lin, columns=["depth", "value"])
ma_log_df = pd.DataFrame(ma_log, columns=["depth", "value"])
minor_df = pd.DataFrame({"value": y_minor_top})

# ---------------- styling ----------------
SANS = "Lato"
SERIF = "Liberation Serif"
INK = "#231f20"
DOT = "#252525"
W1, W2, H = 1460, 1462, 552

num_label = ("datum.value >= 10000 ? replace(format(datum.value, ','), ',', ' ') : "
             "(datum.value < 0 ? '\u2212' + format(-datum.value, 'd') : format(datum.value, 'd'))")
last_label_shift = {"condition": {"test": "datum.value == 3600", "value": -11}, "value": 0}

x_top = alt.X("depth:Q", scale=alt.Scale(domain=[2200, 3600], nice=False, zero=False),
              axis=alt.Axis(values=x_ticks_top, format="d", grid=False, tickSize=7, labelPadding=8,
                            labelExpr="datum.value % 200 == 0 ? datum.label : ''",
                            labelFlush=False, labelOverlap=False, labelOffset=last_label_shift,
                            title=x_title, titleX=730, titleY=64, titleAlign="center",
                            titleBaseline="middle"))
y_top = alt.Y("value:Q", scale=alt.Scale(domain=[-5000, 20000], nice=False, zero=False),
              axis=alt.Axis(values=y_ticks_top, labelExpr=num_label, grid=True, gridColor="#8e8e8e",
                            gridWidth=1, tickSize=10, labelPadding=13, labelOverlap=False,
                            title=y_title, titleX=-127, titleY=274, titleAngle=-90,
                            titleAlign="center", titleBaseline="middle"))

top_points = alt.Chart(top_pts).mark_circle(size=14, color=DOT, opacity=1).encode(x=x_top, y=y_top)
top_line = alt.Chart(ma_top_df).mark_line(color="#adadad", strokeWidth=7).encode(x=x_top, y=y_top)
top_minor = alt.Chart(minor_df).mark_rule(color="#555555", strokeWidth=1).encode(
    y=y_top, x=alt.value(-31), x2=alt.value(-23))


def text_layer(txt, x, y, size, font=SANS, weight="normal", align="left", baseline="alphabetic", limit=0):
    mk = dict(font=font, fontSize=size, fontWeight=weight, color=INK, align=align, baseline=baseline)
    if limit:
        mk.update(limit=limit, ellipsis=" ")
    return alt.Chart(pd.DataFrame({"t": [txt]})).mark_text(**mk).encode(
        text="t:N", x=alt.value(x), y=alt.value(y))


top_title = text_layer(panel_title, 713, -68, 24, align="center", baseline="middle")
cap1 = text_layer(caption_a, -125, 694, 29.5, font=SERIF)
cap2 = text_layer(caption_b, 659, 694, 28.5, font=SERIF, weight="bold")
cap3 = text_layer(caption_c, 854, 694, 29.5, font=SERIF, limit=628)
cap4 = text_layer(caption_d, -125, 733, 29.5, font=SERIF)

top = alt.layer(top_points, top_line, top_minor, top_title, cap1, cap2, cap3, cap4).properties(
    width=W1, height=H)

x_log = alt.X("depth:Q", scale=alt.Scale(domain=[2200, 3600], nice=False, zero=False),
              axis=alt.Axis(values=x_ticks_log, format="d", grid=False, tickSize=7, labelPadding=10,
                            labelFlush=False, labelOverlap=False, labelOffset=last_label_shift,
                            title=x_title, titleX=736, titleY=67, titleAlign="center",
                            titleBaseline="middle"))
y_log = alt.Y("value:Q", scale=alt.Scale(type="log", domain=[10, 100000], nice=False),
              axis=alt.Axis(values=y_ticks_log, labelExpr=num_label, grid=True, gridColor="#4a4a4a",
                            gridWidth=1, tickSize=10, labelPadding=13, labelOverlap=False,
                            title=y_title, titleX=-111, titleY=276, titleAngle=-90,
                            titleAlign="center", titleBaseline="middle"))

log_points = alt.Chart(log_pts).mark_circle(size=14, color=DOT, opacity=1).encode(x=x_log, y=y_log)
log_line = alt.Chart(ma_log_df).mark_line(color="#ababab", strokeWidth=3).encode(x=x_log, y=y_log)
log_title = text_layer(panel_title, 734, -66, 24, align="center", baseline="middle")

bottom = alt.layer(log_points, log_line, log_title).properties(width=W2, height=H)

chart = alt.vconcat(top, bottom, spacing=59).properties(
    padding={"left": 27, "top": 44, "right": 0, "bottom": 0}
).configure_view(
    stroke="#333333", strokeWidth=1.5
).configure_axis(
    labelFont=SANS, labelFontSize=20.5, labelColor=INK,
    titleFont=SANS, titleFontWeight="normal", titleColor=INK,
    domainColor="#333333", domainWidth=1.5, tickColor="#333333", tickWidth=1.5
).configure_axisX(
    titleFontSize=25.5, labelFontSize=20
).configure_axisY(
    titleFontSize=24.5
)

chart.save("out.html", embed_options={"renderer": "svg", "actions": False})
